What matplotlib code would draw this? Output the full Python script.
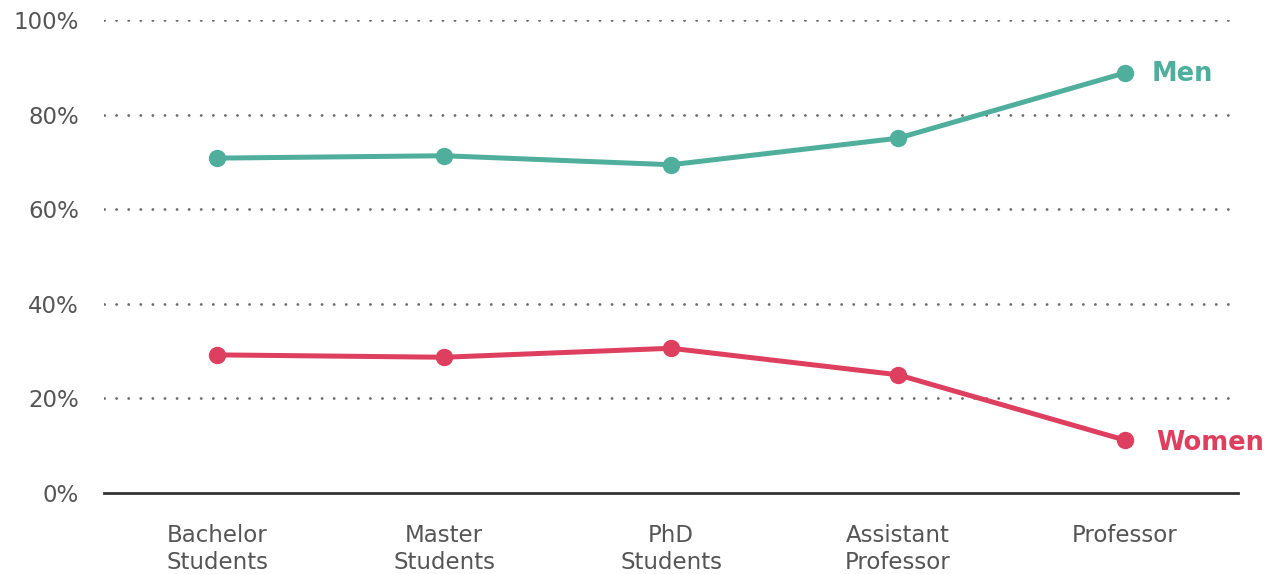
import matplotlib.pyplot as plt

plt.rcParams['font.family'] = ['DejaVu Sans']
plt.rcParams['lines.scale_dashes'] = False

categories = ["Bachelor\nStudents", "Master\nStudents", "PhD\nStudents",
              "Assistant\nProfessor", "Professor"]
men = [70.8, 71.3, 69.4, 75.0, 88.8]
women = [29.2, 28.7, 30.6, 25.0, 11.2]
yticks = [0, 20, 40, 60, 80, 100]

teal = "#4FAF9C"
red = "#DE3F5E"
grey = "#555555"

fig = plt.figure(figsize=(12.73, 5.74), dpi=100)
ax = fig.add_axes([104 / 1273, 81 / 574, 1134 / 1273, 473 / 574])

x = list(range(len(categories)))
ax.set_xlim(-0.5, len(categories) - 0.5)
ax.set_ylim(0, 100)

# dotted guides at each 20% step, solid baseline at zero
for y in yticks[1:]:
    ax.axhline(y, color="#6a6a6a", lw=2.0, linestyle=(0, (0.1, 8.6)),
               dash_capstyle="round", zorder=1)
ax.axhline(0, color="#333333", lw=2.0, zorder=2, clip_on=False)

ax.plot(x, men, color=teal, lw=3.6, marker="o", markersize=11.5,
        clip_on=False, zorder=3)
ax.plot(x, women, color=red, lw=3.6, marker="o", markersize=11.5,
        clip_on=False, zorder=3)

ax.text(x[-1] + 0.12, men[-1] - 0.3, "Men", color=teal, fontsize=18.5,
        fontweight="bold", va="center", ha="left")
ax.text(x[-1] + 0.14, women[-1] - 0.6, "Women", color=red, fontsize=18.5,
        fontweight="bold", va="center", ha="left")

ax.set_xticks(x)
ax.set_xticklabels(categories, fontsize=16.5, color=grey, linespacing=1.22)
ax.set_yticks(yticks)
ax.set_yticklabels([f"{v}%" for v in yticks], fontsize=16.5, color=grey)
ax.tick_params(axis="both", length=0)
ax.tick_params(axis="y", pad=18)
ax.tick_params(axis="x", pad=22)

for s in ax.spines.values():
    s.set_visible(False)

fig.savefig("out.png", dpi=100)
